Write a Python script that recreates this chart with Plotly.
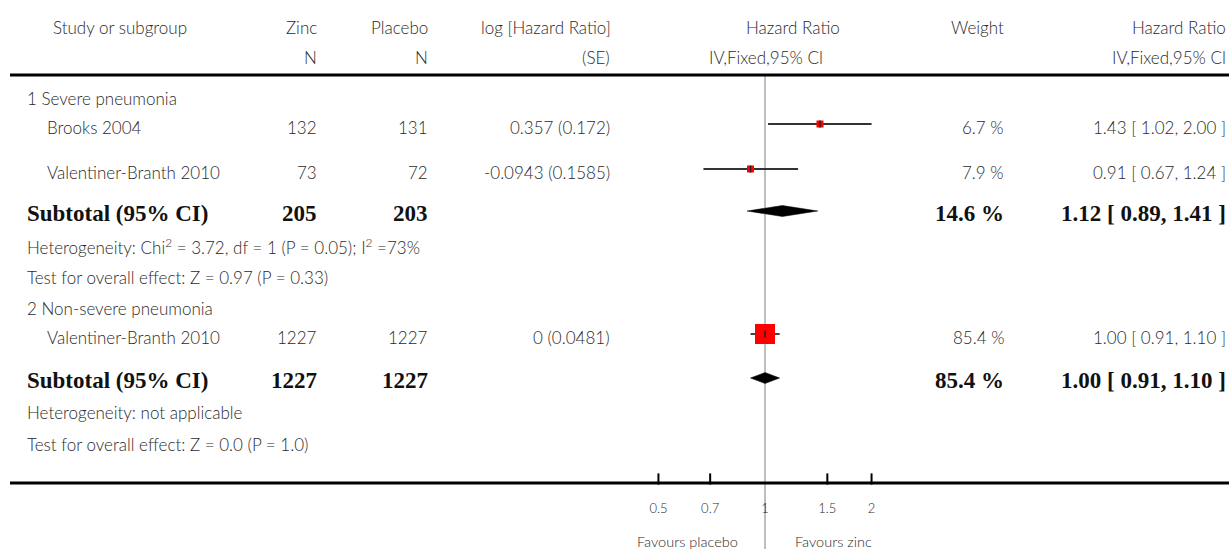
import plotly.graph_objects as go

# ---------------- data ----------------
studies = ["Brooks 2004", "Valentiner-Branth 2010", "Valentiner-Branth 2010"]
zinc_n = ["132", "73", "1227"]
placebo_n = ["131", "72", "1227"]
loghr_se = ["0.357 (0.172)", "-0.0943 (0.1585)", "0 (0.0481)"]
weights = ["6.7 %", "7.9 %", "85.4 %"]
hr = [1.43, 0.91, 1.00]
hr_lo = [1.02, 0.67, 0.91]
hr_hi = [2.00, 1.24, 1.10]
hr_text = ["1.43 [ 1.02, 2.00 ]", "0.91 [ 0.67, 1.24 ]", "1.00 [ 0.91, 1.10 ]"]

sub_zinc = ["205", "1227"]
sub_placebo = ["203", "1227"]
sub_weight = ["14.6 %", "85.4 %"]
sub_hr = [1.12, 1.00]
sub_lo = [0.89, 0.91]
sub_hi = [1.41, 1.10]
sub_text = ["1.12 [ 0.89, 1.41 ]", "1.00 [ 0.91, 1.10 ]"]

groups = ["1 Severe pneumonia", "2 Non-severe pneumonia"]
heterogeneity = ["Heterogeneity: Chi<sup>2</sup> = 3.72, df = 1 (P = 0.05); I<sup>2</sup> =73%",
                 "Heterogeneity: not applicable"]
overall = ["Test for overall effect: Z = 0.97 (P = 0.33)",
           "Test for overall effect: Z = 0.0 (P = 1.0)"]

tick_vals = [0.5, 0.7, 1, 1.5, 2]
tick_labels = ["0.5", "0.7", "1", "1.5", "2"]

# ---------------- layout constants ----------------
W, H = 1229, 549
study_y = [124, 169, 334]
sub_y = [211, 378]
group_y = [98, 308]
het_y = [246, 412]
test_y = [277, 444]

FONT = "Lato"
BFONT = "Liberation Serif"
TXT = "#2a2a2a"
FS = 17
PAD = 3  # annotation inner padding compensation

def px(x):
    return x / W

fig = go.Figure()
ann = []

def text(x, y, s, anchor="left", size=FS, bold=False, color=TXT):
    if bold:
        f = dict(family=BFONT, size=23, color="#111", weight="bold")
    else:
        f = dict(family=FONT, size=size, color=color, weight=300)
    if anchor == "right":
        x = x + PAD
    elif anchor == "left":
        x = x - PAD
    ann.append(dict(x=px(x), y=y, xref="paper", yref="y", text=s, showarrow=False,
                    xanchor=anchor, yanchor="middle", font=f))

# headers
text(54, 27, "Study or subgroup")
text(316, 27, "Zinc", "right")
text(316, 57, "N", "right")
text(427, 27, "Placebo", "right")
text(427, 57, "N", "right")
text(610, 27, "log [Hazard Ratio]", "right")
text(609, 57, "(SE)", "right")
text(793, 27, "Hazard Ratio", "center")
text(766, 57, "IV,Fixed,95% CI", "center")
text(1003, 27, "Weight", "right")
text(1225, 27, "Hazard Ratio", "right")
text(1225, 57, "IV,Fixed,95% CI", "right")

# study rows
for i, s in enumerate(studies):
    y = study_y[i] + 3
    text(48, y, s)
    text(316, y, zinc_n[i], "right")
    text(427, y, placebo_n[i], "right")
    text(609, y, loghr_se[i], "right")
    text(1003, y, weights[i], "right")
    text(1225, y, hr_text[i], "right")

for g in range(2):
    text(28, group_y[g], groups[g])
    y = sub_y[g] + 2
    text(28, y, "Subtotal (95% CI)", bold=True)
    text(316, y, sub_zinc[g], "right", bold=True)
    text(427, y, sub_placebo[g], "right", bold=True)
    text(1003, y, sub_weight[g], "right", bold=True)
    text(1225, y, sub_text[g], "right", bold=True)
    text(28, het_y[g], heterogeneity[g])
    text(28, test_y[g], overall[g])

# favours
text(737, 541, "Favours placebo", "right", size=14.5)
text(796, 541, "Favours zinc", "left", size=14.5)

# CI lines
for i in range(len(studies)):
    fig.add_trace(go.Scatter(x=[hr_lo[i], hr_hi[i]], y=[study_y[i]] * 2, mode="lines",
                             line=dict(color="#333333", width=1.8), hoverinfo="skip"))
# squares
fig.add_trace(go.Scatter(x=hr, y=study_y, mode="markers",
                         marker=dict(symbol="square", color="#ff0000", size=[7, 7, 20], opacity=1,
                                     line=dict(width=0)), hoverinfo="skip"))
fig.add_trace(go.Scatter(x=hr, y=study_y, mode="markers",
                         marker=dict(symbol="line-ns", size=5, line=dict(color="#222", width=1.5)),
                         hoverinfo="skip"))
# diamonds
for g in range(2):
    yc = sub_y[g]
    fig.add_trace(go.Scatter(x=[sub_lo[g], sub_hr[g], sub_hi[g], sub_hr[g], sub_lo[g]],
                             y=[yc, yc - 5.5, yc, yc + 5.5, yc], mode="lines", fill="toself",
                             fillcolor="black", line=dict(color="black", width=0.5),
                             hoverinfo="skip"))

# axis ticks and labels
fig.add_trace(go.Scatter(x=[v for v in tick_vals if v != 1], y=[479] * 4, mode="markers",
                         marker=dict(symbol="line-ns", size=8, line=dict(color="black", width=2)),
                         hoverinfo="skip"))
fig.add_trace(go.Scatter(x=tick_vals, y=[510] * len(tick_vals), mode="text", text=tick_labels,
                         textfont=dict(family=FONT, size=13, color=TXT, weight=300),
                         hoverinfo="skip"))

shapes = [
    dict(type="line", xref="x", yref="y", x0=1, x1=1, y0=75, y1=549,
         line=dict(color="#aaaaaa", width=1.5), layer="below"),
    dict(type="line", xref="paper", yref="y", x0=px(10), x1=1, y0=75, y1=75,
         line=dict(color="black", width=3)),
    dict(type="line", xref="paper", yref="y", x0=px(10), x1=1, y0=483, y1=483,
         line=dict(color="black", width=3)),
]

# log-axis range chosen so that HR=1 sits at page x=765 with 354 px per decade
x_left = (0 - 765) / 354
x_right = (W - 765) / 354

fig.update_layout(
    width=W, height=H, margin=dict(l=0, r=0, t=0, b=0),
    paper_bgcolor="white", plot_bgcolor="white", showlegend=False,
    xaxis=dict(type="log", range=[x_left, x_right], visible=False),
    yaxis=dict(range=[H, 0], visible=False),
    annotations=ann, shapes=shapes,
)
fig.write_html("out.html", config={"displayModeBar": False},
               post_script="document.body.style.margin='0px';")
